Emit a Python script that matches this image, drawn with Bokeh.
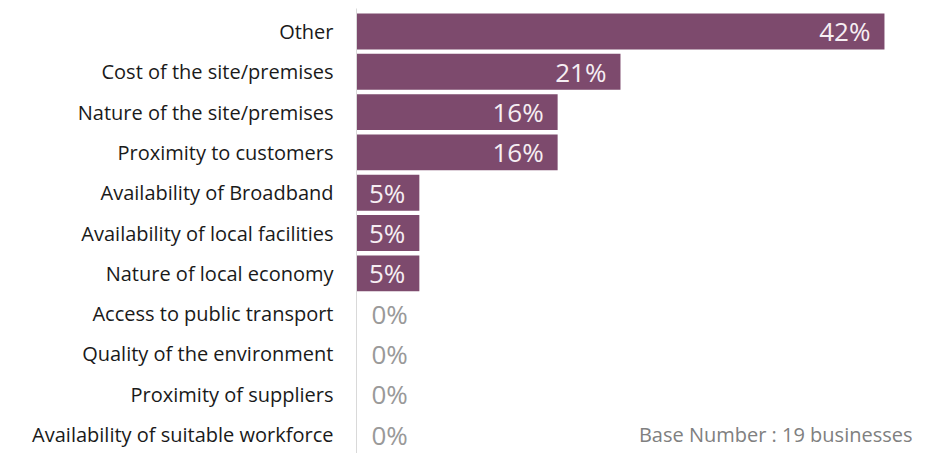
from bokeh.plotting import figure
from bokeh.models import ColumnDataSource, FixedTicker, Range1d, Label
from bokeh.core.properties import value
from bokeh.embed import file_html
from bokeh.resources import INLINE

categories = [
    "Other",
    "Cost of the site/premises",
    "Nature of the site/premises",
    "Proximity to customers",
    "Availability of Broadband",
    "Availability of local facilities",
    "Nature of local economy",
    "Access to public transport",
    "Quality of the environment",
    "Proximity of suppliers",
    "Availability of suitable workforce",
]
values = [42, 21, 16, 16, 5, 5, 5, 0, 0, 0, 0]
base_note = "Base Number : 19 businesses"

n = len(categories)
ypos = [n - 1 - i for i in range(n)]
labels = [f"{v}%" for v in values]

bar_src = ColumnDataSource(dict(y=ypos, v=values))
in_idx = [i for i, v in enumerate(values) if v > 0]
out_idx = [i for i, v in enumerate(values) if v == 0]
in_src = ColumnDataSource(dict(y=[ypos[i] for i in in_idx], v=[values[i] for i in in_idx], t=[labels[i] for i in in_idx]))
out_src = ColumnDataSource(dict(y=[ypos[i] for i in out_idx], v=[values[i] for i in out_idx], t=[labels[i] for i in out_idx]))

p = figure(width=917, height=453, output_backend="svg", toolbar_location=None,
           x_range=Range1d(0, 44.23), y_range=Range1d(-0.47, 10.57),
           x_axis_location=None, min_border_left=356, min_border_right=5,
           min_border_top=8, min_border_bottom=0)
p.outline_line_color = None
p.xgrid.visible = False
p.ygrid.visible = False
p.background_fill_color = "white"
p.border_fill_color = "white"

p.hbar(y="y", left=0, right="v", height=0.89, source=bar_src,
       fill_color="#7D4A6D", line_color=None)

p.text(x="v", y="y", text="t", source=in_src, text_align="right", text_baseline="middle",
       x_offset=-14, text_font=value("Open Sans"), text_font_size="26px", text_color="#f6eef3")
p.text(x="v", y="y", text="t", source=out_src, text_align="left", text_baseline="middle",
       x_offset=15, text_font=value("Open Sans"), text_font_size="26px", text_color="#999999")

ax = p.yaxis[0]
ax.ticker = FixedTicker(ticks=ypos)
ax.major_label_overrides = {y: c for y, c in zip(ypos, categories)}
ax.axis_line_color = "#d9d9d9"
ax.axis_line_width = 1
ax.major_tick_line_color = None
ax.minor_tick_line_color = None
ax.major_tick_out = 0
ax.major_tick_in = 0
ax.major_label_standoff = 23
ax.major_label_text_font = "Open Sans"
ax.major_label_text_font_size = "20px"
ax.major_label_text_color = "#1a1a1a"

p.add_layout(Label(x=44.23, y=0, text=base_note, text_align="right", text_baseline="middle",
                   text_font="Open Sans", text_font_size="20px", text_color="#808080"))

open("out.html", "w").write(file_html(p, INLINE))
